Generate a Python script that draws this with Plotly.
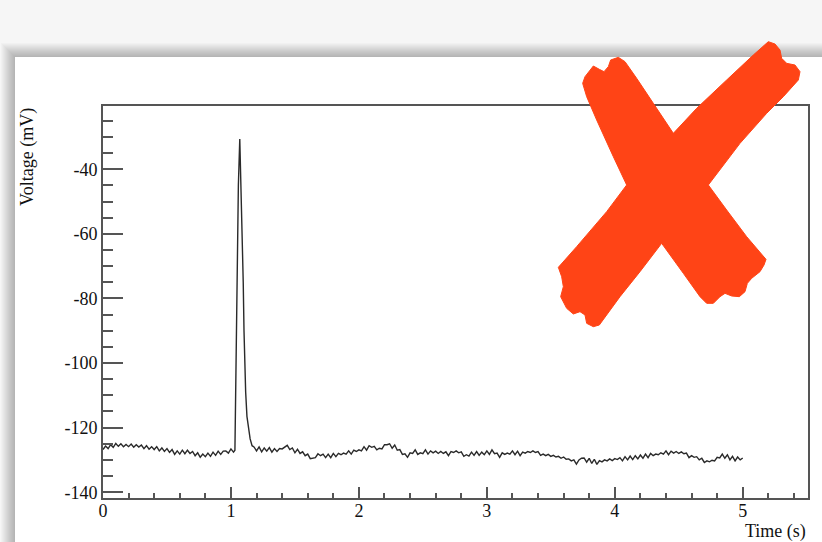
import numpy as np
import plotly.graph_objects as go

# ---- recorded membrane voltage (mV) ----
# baseline before the spike, sampled every 20 ms from 0.00 to 1.02 s
t_pre = np.round(np.arange(0.0, 1.021, 0.02), 2)
v_pre = [
    -126.8, -125.7, -126.5, -125.3, -126.1, -124.9, -125.8, -125.0, -125.9, -125.2,
    -125.9, -125.1, -126.1, -125.3, -126.0, -125.4, -126.5, -125.6, -126.7, -125.9,
    -126.8, -125.9, -127.2, -126.3, -127.4, -126.5, -127.7, -126.8, -128.3, -127.2,
    -128.2, -127.0, -128.1, -127.0, -128.0, -127.4, -128.7, -127.8, -129.2, -128.2,
    -129.0, -127.9, -128.9, -127.6, -128.6, -127.3, -128.3, -127.3, -127.2, -127.9,
    -126.6, -127.6,
]

# action potential
t_spike = [1.031, 1.040, 1.048, 1.058, 1.069, 1.078, 1.088, 1.096, 1.102,
           1.108, 1.115, 1.125, 1.137, 1.150, 1.165]
v_spike = [-127.0, -100.0, -70.0, -45.0, -30.6, -45.0, -58.0, -75.0, -90.0,
           -101.0, -109.0, -116.5, -120.5, -123.5, -125.6]

# baseline after the spike, 1.18 to 5.00 s
t_post = np.round(np.arange(1.18, 5.001, 0.02), 2)
v_post = [
    -126.0, -127.2, -126.0, -127.5, -126.3, -127.3, -126.2, -127.6, -126.5, -127.4,
    -126.5, -126.6, -125.9, -125.5, -126.8, -126.3, -127.8, -126.7, -128.0, -127.5,
    -128.7, -128.2, -129.6, -129.4, -129.3, -128.1, -128.7, -128.2, -129.3, -128.2,
    -129.3, -128.0, -129.0, -128.0, -128.4, -127.9, -128.2, -127.2, -128.2, -127.0,
    -127.4, -126.9, -127.2, -125.9, -127.0, -125.6, -126.1, -125.8, -126.9, -126.4,
    -126.6, -125.3, -125.3, -125.0, -126.4, -125.4, -127.0, -126.8, -128.3, -128.1,
    -129.2, -127.8, -128.0, -126.9, -128.3, -127.8, -128.1, -126.9, -128.2, -127.2,
    -127.8, -127.3, -128.0, -127.4, -128.0, -127.5, -128.7, -127.4, -127.7, -127.2,
    -127.8, -127.5, -128.9, -128.4, -128.8, -127.6, -128.6, -127.4, -128.6, -127.6,
    -128.4, -127.2, -128.3, -126.9, -128.1, -127.9, -129.2, -127.8, -128.3, -127.9,
    -128.2, -127.2, -128.4, -127.3, -128.7, -127.6, -127.9, -127.4, -127.7, -127.2,
    -127.7, -127.4, -128.6, -128.2, -128.7, -128.3, -128.9, -128.6, -129.1, -128.9,
    -129.5, -129.1, -129.8, -129.7, -130.3, -130.0, -131.3, -130.0, -129.5, -129.4,
    -130.7, -129.5, -131.1, -129.8, -131.4, -130.2, -130.6, -130.0, -130.3, -129.7,
    -130.2, -129.6, -129.9, -129.3, -130.3, -129.0, -130.0, -128.8, -129.9, -128.7,
    -129.7, -128.5, -129.5, -128.2, -129.3, -128.0, -128.7, -128.2, -128.4, -127.8,
    -128.2, -127.2, -128.4, -127.3, -127.9, -127.4, -128.0, -127.5, -128.1, -127.9,
    -129.3, -128.7, -129.2, -129.0, -130.0, -129.5, -130.8, -130.3, -130.6, -130.1,
    -130.3, -129.2, -129.4, -128.2, -129.5, -128.4, -130.0, -128.9, -130.3, -129.1,
    -130.0, -129.4,
]

x_title = "Time (s)"
y_title = "Voltage (mV)"

time = list(t_pre) + t_spike + list(t_post)
volt = v_pre + v_spike + v_post

# ---- page geometry ----
W, H = 822, 542
ML, MR, MT, MB = 103, 14, 106, 44
PW, PH = W - ML - MR, H - MT - MB


def px(x):
    return (x - ML) / PW


def py(y):
    return (H - MB - y) / PH


FONT = "Liberation Serif, Times New Roman, serif"

fig = go.Figure()
fig.add_trace(go.Scatter(
    x=time, y=volt, mode="lines",
    line=dict(color="#2a2a2a", width=1.4),
    hoverinfo="skip", showlegend=False,
))

shapes = []
# canvas panel with a soft drop shadow on its top and left edges
for i in range(14, 0, -1):
    shapes.append(dict(
        type="rect", xref="paper", yref="paper", layer="below",
        x0=px(15 - i), x1=px(W + 20), y0=py(H + 20), y1=py(57 - i),
        fillcolor="rgba(0,0,0,0.018)", line=dict(width=0),
    ))
shapes.append(dict(
    type="rect", xref="paper", yref="paper", layer="below",
    x0=px(15), x1=px(W + 20), y0=py(H + 20), y1=py(57),
    fillcolor="white", line=dict(width=0),
))

# red cross stamped over the top-right corner (outline in page pixels)
cross = [
    (128, 160), (135, 140), (160, 108), (178, 118), (192, 125), (205, 110), (212, 90),
    (235, 82), (255, 95), (290, 145), (340, 220), (400, 310),
    (470, 235), (560, 150), (640, 75), (685, 35), (705, 42), (720, 60), (725, 85),
    (740, 100), (765, 105), (780, 125), (775, 150), (730, 200), (680, 250), (600, 340),
    (505, 465),
    (560, 540), (620, 620), (678, 688), (672, 705), (660, 725), (635, 745), (622, 760),
    (615, 785), (598, 800), (575, 798), (555, 790), (540, 800), (520, 820), (500, 820),
    (480, 800), (430, 730), (365, 640),
    (300, 725), (240, 800), (178, 885), (160, 890), (140, 880), (135, 855), (120, 845),
    (100, 852), (80, 835), (62, 800), (70, 770), (65, 740), (55, 712), (110, 650),
    (200, 545), (260, 465),
    (220, 380), (170, 270), (140, 200),
]
pts = [(540 + a / 3.0, 30 + b / 3.0) for a, b in cross]
path = "M " + " L ".join(f"{px(a):.5f},{py(b):.5f}" for a, b in pts) + " Z"
shapes.append(dict(
    type="path", xref="paper", yref="paper", layer="above", path=path,
    fillcolor="#ff4416", line=dict(color="#ff4416", width=1),
))

axis_common = dict(
    showgrid=False, zeroline=False, showline=True, mirror=True,
    linecolor="#555555", linewidth=2, ticks="inside", tickcolor="#555555",
    tickwidth=2, tickfont=dict(family=FONT, size=18, color="#111111"),
)

fig.update_layout(
    width=W, height=H,
    margin=dict(l=ML, r=MR, t=MT, b=MB),
    paper_bgcolor="#f6f6f6", plot_bgcolor="white",
    shapes=shapes,
    xaxis=dict(
        range=[0, 5.51], tickvals=[0, 1, 2, 3, 4, 5], ticklen=11,
        ticklabelstandoff=-5,
        minor=dict(dtick=0.2, tick0=0, ticks="inside", ticklen=5,
                   tickcolor="#555555", tickwidth=2),
        **axis_common,
    ),
    yaxis=dict(
        range=[-141.8, -20.4], tickvals=[-140, -120, -100, -80, -60, -40],
        ticktext=["-140", "-120", "-100", "-80", "-60", "-40"], ticklen=20,
        minor=dict(dtick=5, tick0=0, ticks="inside", ticklen=10,
                   tickcolor="#555555", tickwidth=2),
        **axis_common,
    ),
    annotations=[
        dict(text=x_title, xref="paper", yref="paper", x=1, y=py(531),
             xanchor="right", yanchor="middle", showarrow=False,
             font=dict(family=FONT, size=18, color="#111111")),
        dict(text=y_title, xref="paper", yref="paper", x=px(27), y=1,
             xanchor="center", yanchor="top", textangle=-90, showarrow=False,
             font=dict(family=FONT, size=18, color="#111111")),
    ],
)

fig.write_html("out.html")
